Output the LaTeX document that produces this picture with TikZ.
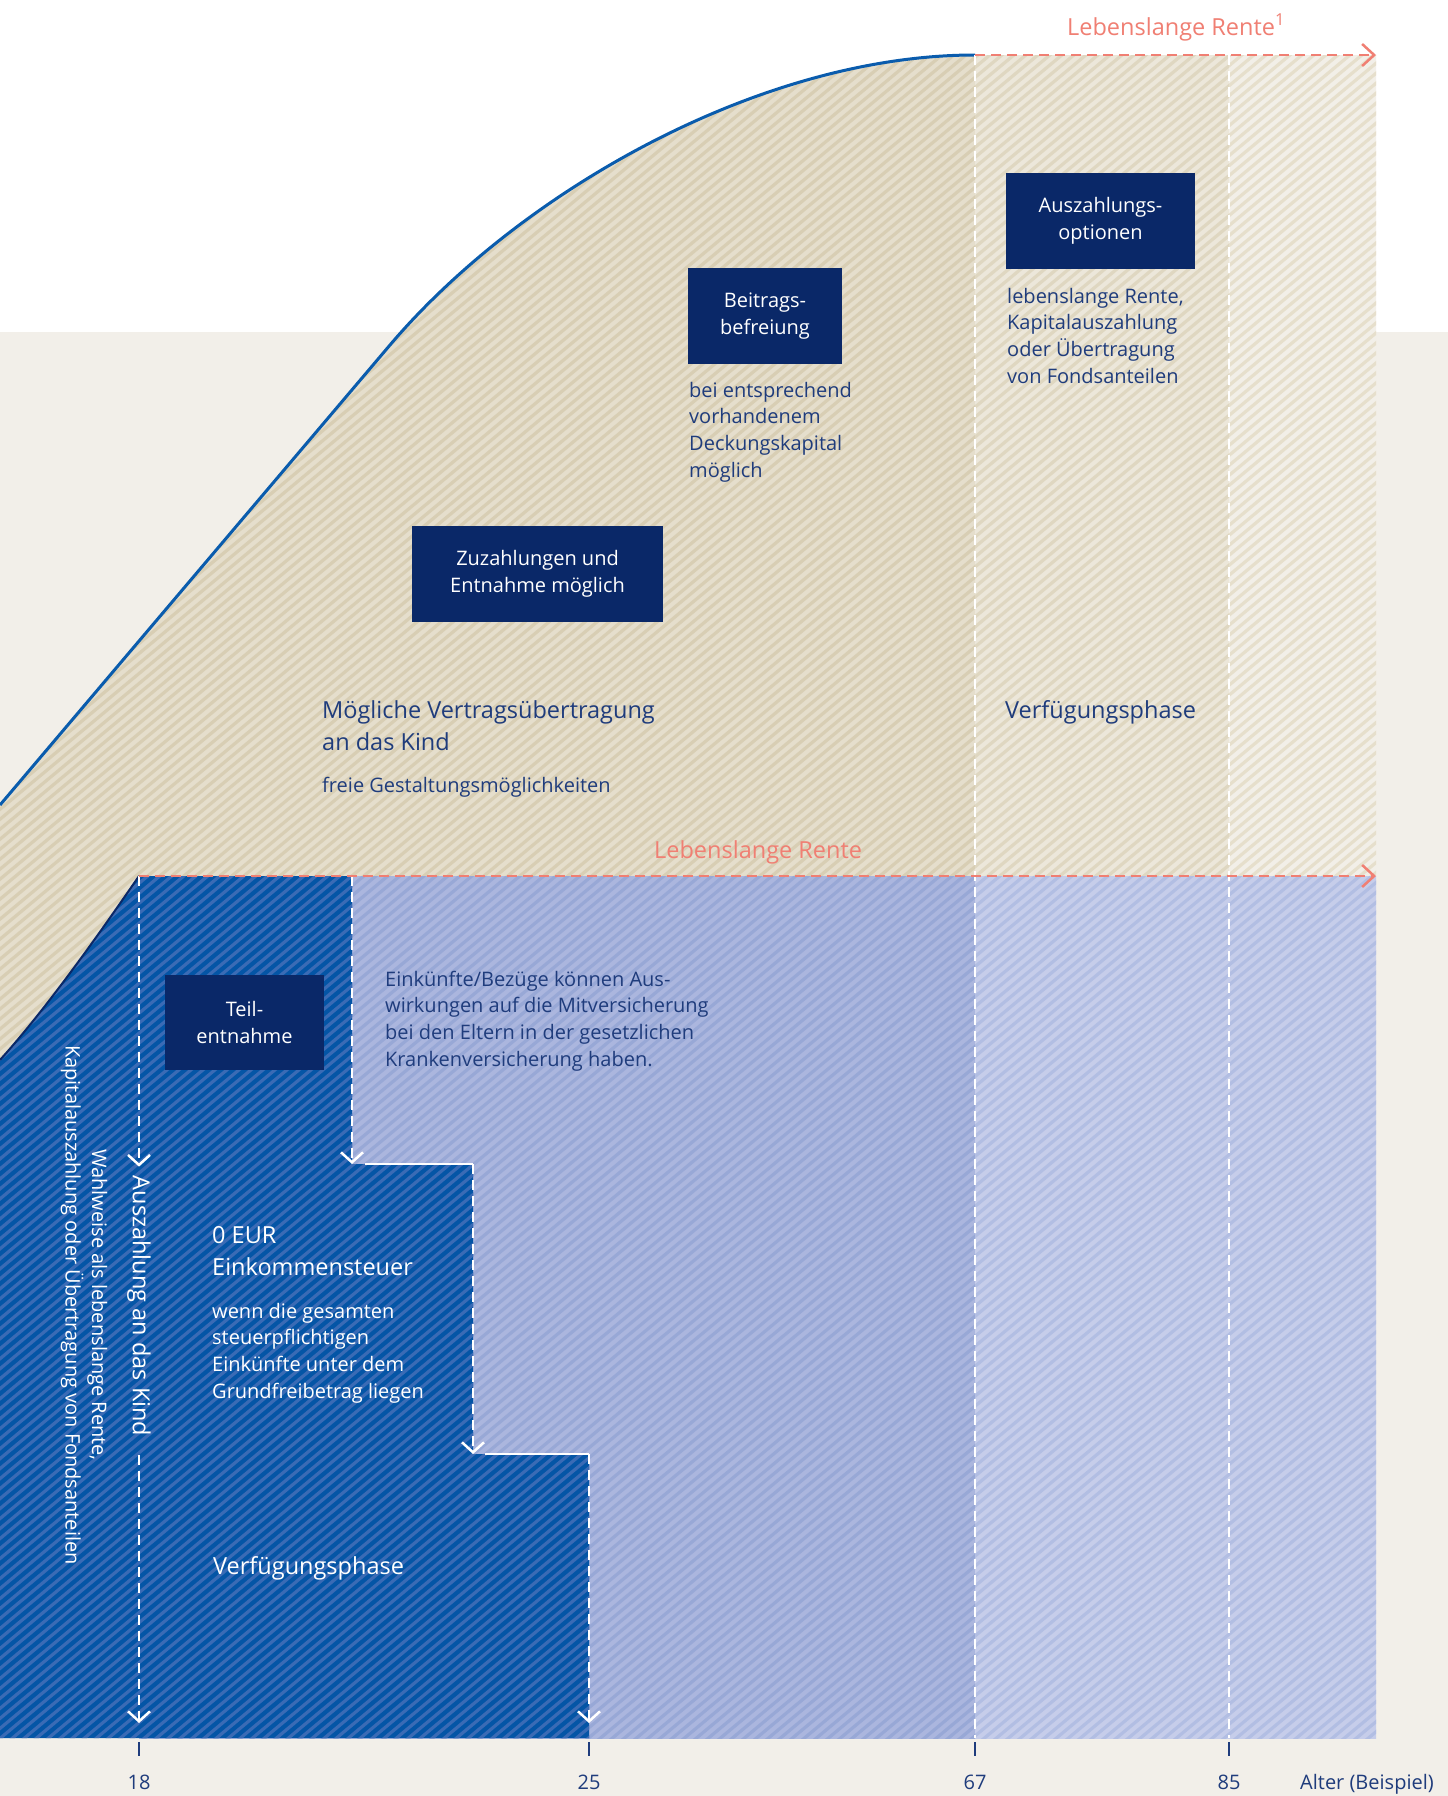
\documentclass[tikz,border=0pt]{standalone}
\usepackage{fontspec}
\setmainfont{Open Sans}
\usetikzlibrary{arrows.meta}
\definecolor{bgbeige}{HTML}{F2EFE9}
\definecolor{beigeA}{HTML}{E5DECC}
\definecolor{beigeAs}{HTML}{D8CEB4}
\definecolor{beigeB}{HTML}{ECE7DA}
\definecolor{beigeBs}{HTML}{DFD7C1}
\definecolor{beigeC}{HTML}{F2EFE8}
\definecolor{beigeCs}{HTML}{E6DFCC}
\definecolor{darkblue}{HTML}{0455A6}
\definecolor{darkblues}{HTML}{3A6BB5}
\definecolor{lightblue}{HTML}{ABB6DE}
\definecolor{lightblues}{HTML}{98A8D6}
\definecolor{paleblue}{HTML}{C6CDEA}
\definecolor{paleblues}{HTML}{B2BEE3}
\definecolor{boxnavy}{HTML}{0A2868}
\definecolor{textnavy}{HTML}{1F3C7C}
\definecolor{salmon}{HTML}{F07F73}
\definecolor{curveblue}{HTML}{0A5CAD}
\newcommand\fsmall{\fontsize{20}{26.6}\selectfont}
\newcommand\flarge{\fontsize{23.5}{32}\selectfont}
\newcommand\stripefill[3]{%
  \begin{scope}
    \clip #1;
    \fill[#2] (-5,-5) rectangle (1455,1800);
    \foreach \k in {0,...,305}{\draw[#3, line width=3.2pt] ({\k*12-2180},1805) -- ({\k*12-2180+2174},-5);}
  \end{scope}}
\begin{document}
\begin{tikzpicture}[x=1pt,y=-1pt,
  box/.style={fill=boxnavy, text=white, font=\fsmall, align=center, inner sep=0pt},
  note/.style={text=textnavy, font=\fsmall, align=left, anchor=base west, inner sep=0pt},
  bignote/.style={text=textnavy, font=\flarge, align=left, anchor=base west, inner sep=0pt},
  whitenote/.style={text=white, font=\fsmall, align=left, anchor=base west, inner sep=0pt},
  whitebig/.style={text=white, font=\flarge, align=left, anchor=base west, inner sep=0pt},
  rentelabel/.style={text=salmon, font=\flarge, anchor=base west, inner sep=0pt},
  rente/.style={salmon, line width=2.5pt, dash pattern=on 10pt off 6pt, -{Straight Barb[length=12pt,width=22pt]}},
  phase/.style={white, line width=2.5pt, dash pattern=on 10pt off 6pt},
  down/.style={phase, -{Straight Barb[length=10pt,width=22pt]}},
  stepline/.style={white, line width=2.5pt},
  tickline/.style={textnavy, line width=1.5pt},
  ticklabel/.style={text=textnavy, font=\fsmall, inner sep=0pt, anchor=base}]
\useasboundingbox (0,0) rectangle (1448,1796);
\fill[white] (0,0) rectangle (1448,332);
\fill[bgbeige] (0,332) rectangle (1448,1796);
% beige regions
\stripefill{(0,805) -- (390,345) .. controls (520,192) and (760,55) .. (975,55) -- (975,1100) -- (0,1100) -- cycle}{beigeA}{beigeAs}
\stripefill{(975,55) rectangle (1229,876)}{beigeB}{beigeBs}
\stripefill{(1229,55) rectangle (1376,876)}{beigeC}{beigeCs}
% blue regions
\stripefill{(139,876) rectangle (975,1738)}{lightblue}{lightblues}
\stripefill{(975,876) rectangle (1376,1738)}{paleblue}{paleblues}
\stripefill{(0,1060) .. controls (45,1010) and (95,940) .. (139,876) -- (352,876) -- (352,1164) -- (473,1164) -- (473,1454) -- (589,1454) -- (589,1738) -- (0,1738) -- cycle}{darkblue}{darkblues}
% curves
\draw[curveblue, line width=3pt] (0,805) -- (390,345) .. controls (520,192) and (760,55) .. (975,55);
\draw[boxnavy, line width=2pt] (0,1060) .. controls (45,1010) and (95,940) .. (139,876);
% phase lines
\coordinate (t67) at (975,55); \coordinate (b67) at (975,1738);
\coordinate (t85) at (1229,55); \coordinate (b85) at (1229,1738);
\draw[phase] (t67) -- (b67);
\draw[phase] (t85) -- (b85);
% staircase
\coordinate (s0) at (352,876); \coordinate (s1) at (352,1164); \coordinate (s1r) at (365,1164);
\coordinate (s2) at (473,1164); \coordinate (s2b) at (473,1454); \coordinate (s2r) at (485,1454);
\coordinate (s3) at (589,1454); \coordinate (s3b) at (589,1723);
\draw[down] (s0) -- (s1);
\draw[stepline] (s1r) -- (s2);
\draw[down] (s2) -- (s2b);
\draw[stepline] (s2r) -- (s3);
\draw[down] (s3) -- (s3b);
% Auszahlung an das Kind
\node[whitebig, rotate=-90, anchor=center, inner sep=9pt] (kind) at (139,1306) {Auszahlung an das Kind};
\coordinate (k0) at (139,876); \coordinate (k1) at (139,1455); \coordinate (k2) at (139,1723);
\draw[down] (k0) -- (kind.west);
\draw[down] (k1) -- (k2);
\node[whitenote, rotate=-90, align=center, anchor=center] (wahl) at (84,1305) {Wahlweise als lebenslange Rente,\\Kapitalauszahlung oder Übertragung von Fondsanteilen};
% Lebenslange Rente arrows
\coordinate (r1s) at (975,55); \coordinate (r1e) at (1376,55);
\coordinate (r2s) at (139,876); \coordinate (r2e) at (1376,876);
\draw[rente] (r1s) -- (r1e);
\draw[rente] (r2s) -- (r2e);
\node[rentelabel] (rl1) at (1067,35) {Lebenslange Rente\textsuperscript{1}};
\node[rentelabel] (rl2) at (654,858) {Lebenslange Rente};
% boxes
\node[box, minimum width=189pt, minimum height=96pt] (bopt) at (1100.5,221) {Auszahlungs-\\optionen};
\node[box, minimum width=154pt, minimum height=96pt] (bbef) at (765,316) {Beitrags-\\befreiung};
\node[box, minimum width=251pt, minimum height=96pt] (bzuz) at (537.5,574) {Zuzahlungen und\\Entnahme möglich};
\node[box, minimum width=159pt, minimum height=95pt] (bteil) at (244.5,1022.5) {Teil-\\entnahme};
% texts (anchored at the baseline of their last line)
\node[note] (opt) at (1007,383) {lebenslange Rente,\\Kapitalauszahlung\\oder Übertragung\\von Fondsanteilen};
\node[note] (bef) at (689,477) {bei entsprechend\\vorhandenem\\Deckungskapital\\möglich};
\node[bignote] (vert) at (322,750) {Mögliche Vertragsübertragung\\an das Kind};
\node[note] (frei) at (322,792) {freie Gestaltungsmöglichkeiten};
\node[bignote] (vp1) at (1005,718) {Verfügungsphase};
\node[note] (eink) at (385,1066) {Einkünfte/Bezüge können Aus-\\wirkungen auf die Mitversicherung\\bei den Eltern in der gesetzlichen\\Krankenversicherung haben.};
\node[whitebig] (eur) at (212,1275) {0 EUR\\Einkommensteuer};
\node[whitenote] (wenn) at (212,1398) {wenn die gesamten\\steuerpflichtigen\\Einkünfte unter dem\\Grundfreibetrag liegen};
\node[whitebig] (vp2) at (213,1574) {Verfügungsphase};
% axis
\foreach \xx/\lab/\nm in {139/18/a, 589/25/b, 975/67/c, 1229/85/d}{
  \coordinate (tt\nm) at (\xx,1742); \coordinate (tb\nm) at (\xx,1756);
  \draw[tickline] (tt\nm) -- (tb\nm);
  \node[ticklabel] (lab\nm) at (\xx,1789) {\lab};
}
\node[ticklabel] (alter) at (1367,1789) {Alter (Beispiel)};
\end{tikzpicture}
\end{document}
